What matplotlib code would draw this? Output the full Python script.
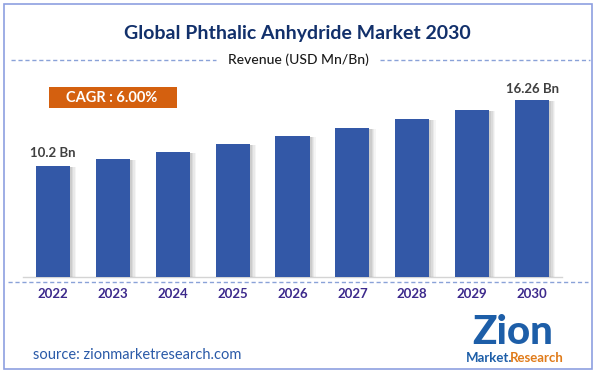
import matplotlib
matplotlib.use("Agg")
import matplotlib.pyplot as plt
from matplotlib.patches import Rectangle
from matplotlib.lines import Line2D
import matplotlib.patheffects as pe

years = ["2022", "2023", "2024", "2025", "2026", "2027", "2028", "2029", "2030"]
revenue = [10.2, 10.82, 11.49, 12.23, 12.97, 13.68, 14.53, 15.36, 16.26]
first_label = "10.2 Bn"
last_label = "16.26 Bn"
title = "Global Phthalic Anhydride Market 2030"
subtitle = "Revenue (USD Mn/Bn)"
cagr_text = "CAGR : 6.00%"
source_text = "source: zionmarketresearch.com"

W, H = 596, 373
fig = plt.figure(figsize=(W / 100, H / 100), dpi=100)
fig.patch.set_facecolor("white")
FONT = "Lato"


def fx(x):
    return x / W


def fy(y):
    return 1 - y / H


# border
fig.add_artist(Rectangle((fx(4), fy(369)), fx(588), (365) / H, transform=fig.transFigure,
                         fill=False, edgecolor="#8e9fe0", linewidth=1.2))

# title & subtitle
fig.text(fx(297), fy(33), title, ha="center", va="center", fontsize=14, fontweight="bold",
         color="#12306b", family=FONT)
fig.text(fx(298), fy(60), subtitle, ha="center", va="center", fontsize=10,
         color="#1a1a1a", family=FONT, fontweight="medium")
dash_col = "#8aa2d8"
fig.add_artist(Line2D([fx(11), fx(216)], [fy(60), fy(60)], transform=fig.transFigure,
                      color=dash_col, lw=1, linestyle=(0, (3, 2))))
fig.add_artist(Line2D([fx(380), fx(590)], [fy(60), fy(60)], transform=fig.transFigure,
                      color=dash_col, lw=1, linestyle=(0, (3, 2))))

# CAGR box
fig.add_artist(Rectangle((fx(49), fy(108)), fx(128), 21 / H, transform=fig.transFigure,
                         facecolor="#d4600f", edgecolor="none"))
fig.text(fx(112), fy(97.5), cagr_text, ha="center", va="center", fontsize=10.5,
         fontweight="bold", color="white", family=FONT)

# bars
ax = fig.add_axes([fx(23), fy(276.7), fx(539), 195.3 / H])
ax.set_xlim(-0.5, 8.5)
ax.set_ylim(0, 18)
x = list(range(len(years)))
bars = ax.bar(x, revenue, width=0.57, color="#3358a7", zorder=3)
shadow = [pe.SimplePatchShadow(offset=(o, -0.8), shadow_rgbFace="#606060", alpha=a)
          for o, a in [(4.5, 0.06), (3.5, 0.08), (2.5, 0.10), (1.5, 0.12)]]
for b in bars:
    b.set_path_effects(shadow + [pe.Normal()])
ax.annotate(first_label, (x[0], revenue[0]), xytext=(0, 5), textcoords="offset points",
            ha="center", va="bottom", fontsize=9.5, fontweight="bold", color="#404040", family=FONT)
ax.annotate(last_label, (x[-1], revenue[-1]), xytext=(0, 4), textcoords="offset points",
            ha="center", va="bottom", fontsize=9.5, fontweight="bold", color="#404040", family=FONT)
for s in ["top", "right", "left"]:
    ax.spines[s].set_visible(False)
ax.spines["bottom"].set_color("#d4d4d4")
ax.spines["bottom"].set_linewidth(1)
ax.set_yticks([])
ax.set_xticks(x)
ax.set_xticklabels(years, fontsize=9.5, fontweight="bold", color="#3d2a8c", family=FONT)
ax.tick_params(axis="x", length=0, pad=8)
ax.patch.set_alpha(0)

fig.add_artist(Line2D([fx(8), fx(588)], [fy(282), fy(282)], transform=fig.transFigure,
                      color=dash_col, lw=1, linestyle=(0, (3, 2))))

# source
fig.text(fx(33), fy(355), source_text, ha="left", va="center", fontsize=10.5,
         color="#2a5aa8", family=FONT)

# logo
fig.text(fx(513), fy(333), "Zion", ha="center", va="center", fontsize=29, fontweight="black",
         color="#1d5ea8", family=FONT)
fig.text(fx(489), fy(358), "Market.", ha="center", va="center", fontsize=9.5, fontweight="bold",
         color="#1d5ea8", family=FONT)
fig.text(fx(537), fy(358), "Research", ha="center", va="center", fontsize=9.5, fontweight="bold",
         color="#e07b1a", family=FONT)

fig.savefig("out.png", dpi=100, facecolor="white")
